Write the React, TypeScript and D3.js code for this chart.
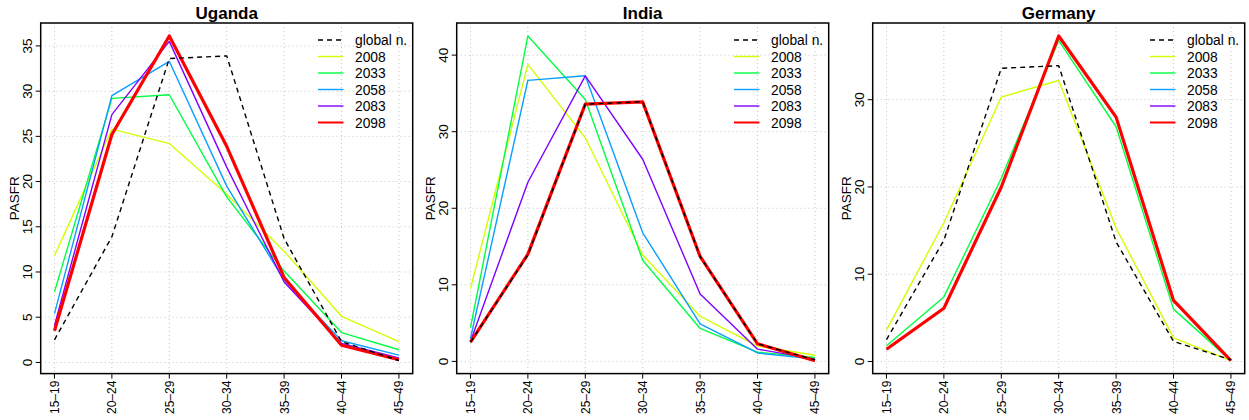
import React from "react";
import * as d3 from "d3";

const ageGroups = ["15–19", "20–24", "25–29", "30–34", "35–39", "40–44", "45–49"];
const years = ["2008", "2033", "2058", "2083", "2098"];
const seriesColors = ["#D2FF00", "#00FF40", "#0A9EFF", "#8000FF", "#FF0000"];
const countries = ["Uganda", "India", "Germany"];

const globalNorm = [2.5, 13.9, 33.6, 33.9, 13.7, 2.3, 0.2];

const uganda2008 = [11.8, 25.8, 24.2, 18.6, 12.3, 5.1, 2.3];
const uganda2033 = [7.8, 29.2, 29.6, 18.3, 10.1, 3.3, 1.4];
const uganda2058 = [5.4, 29.5, 33.3, 19.5, 9.1, 2.4, 0.8];
const uganda2083 = [4.1, 27.4, 35.5, 21.6, 8.9, 2.1, 0.5];
const uganda2098 = [3.5, 25.2, 36.1, 23.9, 9.4, 1.9, 0.3];

const india2008 = [9.5, 38.8, 29.2, 13.9, 5.9, 2.0, 0.8];
const india2033 = [4.4, 42.5, 34.2, 13.2, 4.3, 1.2, 0.5];
const india2058 = [3.0, 36.7, 37.3, 16.8, 4.9, 1.1, 0.3];
const india2083 = [2.6, 23.4, 37.3, 26.4, 8.8, 1.6, 0.3];
const india2098 = [2.5, 14.0, 33.6, 33.9, 13.7, 2.3, 0.1];

const germany2008 = [3.6, 15.9, 30.3, 32.2, 15.3, 2.7, 0.1];
const germany2033 = [1.8, 7.4, 21.0, 36.8, 26.9, 6.0, 0.1];
const germany2058 = [1.4, 6.1, 20.0, 37.2, 27.9, 6.9, 0.1];
const germany2083 = [1.4, 6.1, 20.0, 37.3, 28.0, 7.0, 0.1];
const germany2098 = [1.4, 6.1, 20.0, 37.3, 28.0, 7.0, 0.1];

const ugandaTicks = [0, 5, 10, 15, 20, 25, 30, 35];
const indiaTicks = [0, 10, 20, 30, 40];
const germanyTicks = [0, 10, 20, 30];

const panelSeries = [
  [uganda2008, uganda2033, uganda2058, uganda2083, uganda2098],
  [india2008, india2033, india2058, india2083, india2098],
  [germany2008, germany2033, germany2058, germany2083, germany2098],
];
const panelTicks = [ugandaTicks, indiaTicks, germanyTicks];

const W = 1249;
const H = 420;
const FONT = "'Liberation Sans', Arial, Helvetica, sans-serif";

function Panel({ idx }: { idx: number }) {
  const left = 40.7 + 416 * idx;
  const right = left + 372;
  const top = 23;
  const bottom = 373.6;
  const series = panelSeries[idx];
  const all = [...series.flat(), ...globalNorm];
  const [mn, mx] = d3.extent(all) as [number, number];
  const pad = (mx - mn) * 0.04;
  const y = d3.scaleLinear().domain([mn - pad, mx + pad]).range([bottom, top]);
  const x = d3.scalePoint<string>().domain(ageGroups).range([left, right]).padding(0.24);
  const line = d3
    .line<number>()
    .x((_, i) => x(ageGroups[i]) as number)
    .y((d) => y(d));
  const ticks = panelTicks[idx];
  const cx = (left + right) / 2;
  const cy = (top + bottom) / 2;
  const legX = right - 94.7;
  const legY = 40;
  const legStep = 16.5;
  const legendItems = [
    { label: "global n.", color: "#000", dash: "5,4", w: 1.4 },
    ...years.map((yr, i) => ({ label: yr, color: seriesColors[i], dash: "", w: i === 4 ? 2 : 1.4 })),
  ];
  return (
    <g>
      {ageGroups.map((a) => (
        <line key={"gx" + a} x1={x(a)} x2={x(a)} y1={top} y2={bottom} stroke="#C4C4C4" strokeWidth={1} strokeDasharray="1,3" />
      ))}
      {ticks.map((t) => (
        <line key={"gy" + t} x1={left} x2={right} y1={y(t)} y2={y(t)} stroke="#C4C4C4" strokeWidth={1} strokeDasharray="1,3" />
      ))}
      {series.map((s, i) => (
        <path key={"s" + i} d={line(s) || ""} fill="none" stroke={seriesColors[i]} strokeWidth={i === 4 ? 3.2 : 1.4} strokeLinejoin="round" />
      ))}
      <path d={line(globalNorm) || ""} fill="none" stroke="#000" strokeWidth={1.4} strokeDasharray="5,4" />
      <rect x={left} y={top} width={right - left} height={bottom - top} fill="none" stroke="#000" strokeWidth={1.5} />
      {ticks.map((t) => (
        <g key={"yt" + t}>
          <line x1={left - 5} x2={left} y1={y(t)} y2={y(t)} stroke="#000" strokeWidth={1} />
          <text
            transform={`translate(${left - 9},${y(t)}) rotate(-90)`}
            textAnchor="middle"
            fontSize={13.5}
            fontFamily={FONT}
            fill="#000"
          >
            {t}
          </text>
        </g>
      ))}
      {ageGroups.map((a) => (
        <g key={"xt" + a}>
          <line x1={x(a)} x2={x(a)} y1={bottom} y2={bottom + 5} stroke="#000" strokeWidth={1} />
          <text
            transform={`translate(${(x(a) as number) + 4.5},${bottom + 7}) rotate(-90)`}
            textAnchor="end"
            fontSize={12}
            fontFamily={FONT}
            fill="#000"
          >
            {a}
          </text>
        </g>
      ))}
      <text
        transform={`translate(${left - 22},${cy}) rotate(-90)`}
        textAnchor="middle"
        fontSize={13.5}
        fontFamily={FONT}
        fill="#000"
      >
        PASFR
      </text>
      <text x={cx} y={19} textAnchor="middle" fontSize={17} fontWeight="bold" fontFamily={FONT} fill="#000">
        {countries[idx]}
      </text>
      {legendItems.map((it, i) => (
        <g key={"lg" + i}>
          <line
            x1={legX}
            x2={legX + 25.5}
            y1={legY + i * legStep}
            y2={legY + i * legStep}
            stroke={it.color}
            strokeWidth={it.w}
            strokeDasharray={it.dash}
          />
          <text x={legX + 37} y={legY + i * legStep + 5} fontSize={13.8} fontFamily={FONT} fill="#000">
            {it.label}
          </text>
        </g>
      ))}
    </g>
  );
}

export default function App() {
  return (
    <svg width={W} height={H} style={{ position: "absolute", left: 0, top: 0, background: "#fff" }}>
      <rect x={0} y={0} width={W} height={H} fill="#fff" />
      {[0, 1, 2].map((i) => (
        <Panel key={i} idx={i} />
      ))}
    </svg>
  );
}
